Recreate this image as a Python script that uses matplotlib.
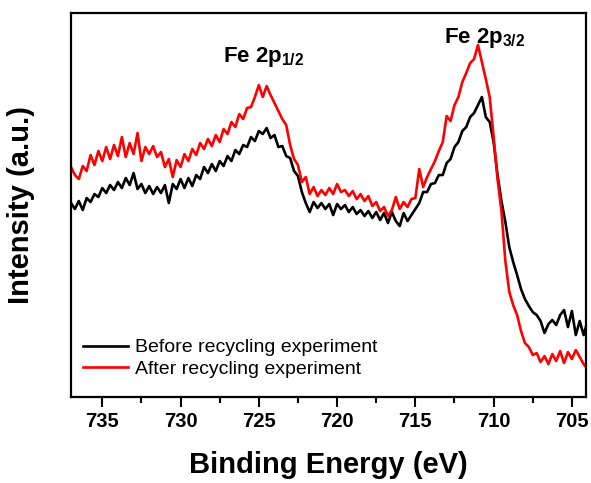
import numpy as np
import matplotlib
matplotlib.use("Agg")
import matplotlib.pyplot as plt

plt.rcParams['font.family'] = ['Liberation Sans', 'DejaVu Sans']
plt.rcParams['mathtext.fontset'] = 'custom'
plt.rcParams['mathtext.rm'] = 'Liberation Sans:bold'
plt.rcParams['mathtext.bf'] = 'Liberation Sans:bold'

# binding energy grid of the scan (0.25 eV step, high -> low)
energy = np.round(np.arange(737.0, 703.9, -0.25), 2)

# intensity (arbitrary units)
before = [194, 188, 196, 187, 199, 195, 203, 200, 209, 204,
          212, 207, 215, 209, 219, 212, 224, 208, 213, 204,
          211, 203, 210, 204, 212, 194, 213, 208, 218, 209,
          219, 211, 222, 218, 230, 224, 233, 226, 236, 231,
          241, 236, 247, 243, 252, 250, 260, 256, 266, 263,
          269, 259, 262, 250, 251, 241, 239, 226, 221, 205,
          194, 185, 195, 189, 194, 188, 193, 182, 193, 188,
          192, 185, 190, 183, 187, 181, 186, 179, 185, 177,
          184, 174, 185, 176, 171, 184, 176, 182, 188, 194,
          205, 205, 213, 214, 222, 222, 234, 238, 250, 255,
          266, 270, 280, 284, 292, 300, 280, 275, 255, 222,
          196, 175, 150, 135, 122, 108, 98, 91, 85, 82,
          76, 64, 73, 77, 72, 82, 87, 70, 86, 62,
          76, 62, 76]

after = [230, 222, 218, 231, 226, 242, 232, 246, 236, 250,
         238, 252, 241, 260, 240, 254, 243, 264, 236, 250,
         243, 251, 240, 245, 230, 238, 220, 237, 230, 243,
         236, 248, 242, 254, 248, 258, 251, 262, 255, 268,
         263, 275, 270, 283, 278, 289, 290, 300, 312, 300,
         311, 302, 294, 286, 278, 272, 252, 238, 232, 215,
         220, 203, 210, 201, 207, 202, 209, 203, 213, 205,
         207, 201, 206, 198, 203, 196, 201, 191, 195, 186,
         190, 181, 187, 200, 188, 195, 190, 198, 199, 228,
         210, 220, 228, 236, 246, 255, 281, 276, 292, 300,
         315, 324, 334, 338, 352, 335, 318, 300, 260, 218,
         186, 136, 105, 92, 82, 66, 54, 50, 42, 44,
         35, 41, 33, 43, 36, 46, 34, 45, 38, 47,
         40, 33, 28]

labels = ["Before recycling experiment", "After recycling experiment"]
colors = ["black", "#ff0000"]

fig = plt.figure(figsize=(5.91, 4.83), dpi=100)
ax = fig.add_axes([0.1201, 0.178, 0.8714, 0.795])

ax.plot(energy, before, color=colors[0], lw=1.9, label=labels[0])
ax.plot(energy, after, color=colors[1], lw=1.9, label=labels[1])

ax.set_xlim(737, 704.1)
ax.set_ylim(0, 384)
ax.set_xticks([735, 730, 725, 720, 715, 710, 705])
ax.set_xticks(np.arange(732.5, 704, -5), minor=True)
ax.set_yticks([])
for lab in ax.get_xticklabels():
    lab.set_fontweight('bold')
ax.tick_params(axis='x', which='major', direction='out', length=7, width=1.5,
               labelsize=14.5, pad=4)
ax.tick_params(axis='x', which='minor', direction='out', length=4, width=1.5)
for s in ax.spines.values():
    s.set_linewidth(1.6)

ax.set_xlabel("Binding Energy (eV)", fontsize=21, fontweight='bold', labelpad=14)
ax.set_ylabel("Intensity (a.u.)", fontsize=21, fontweight='bold', labelpad=26)

ax.text(724.7, 335, r"Fe 2p$_{1/2}$", fontsize=16, fontweight='bold',
        ha='center', va='baseline')
ax.text(710.6, 354, r"Fe 2p$_{3/2}$", fontsize=16, fontweight='bold',
        ha='center', va='baseline')

ax.legend(loc='lower left', bbox_to_anchor=(0.023, 0.05), frameon=False,
          fontsize=14, handlelength=2.3, handletextpad=0.4, labelspacing=0.2,
          borderpad=0, borderaxespad=0)

fig.savefig("out.png", dpi=100)
